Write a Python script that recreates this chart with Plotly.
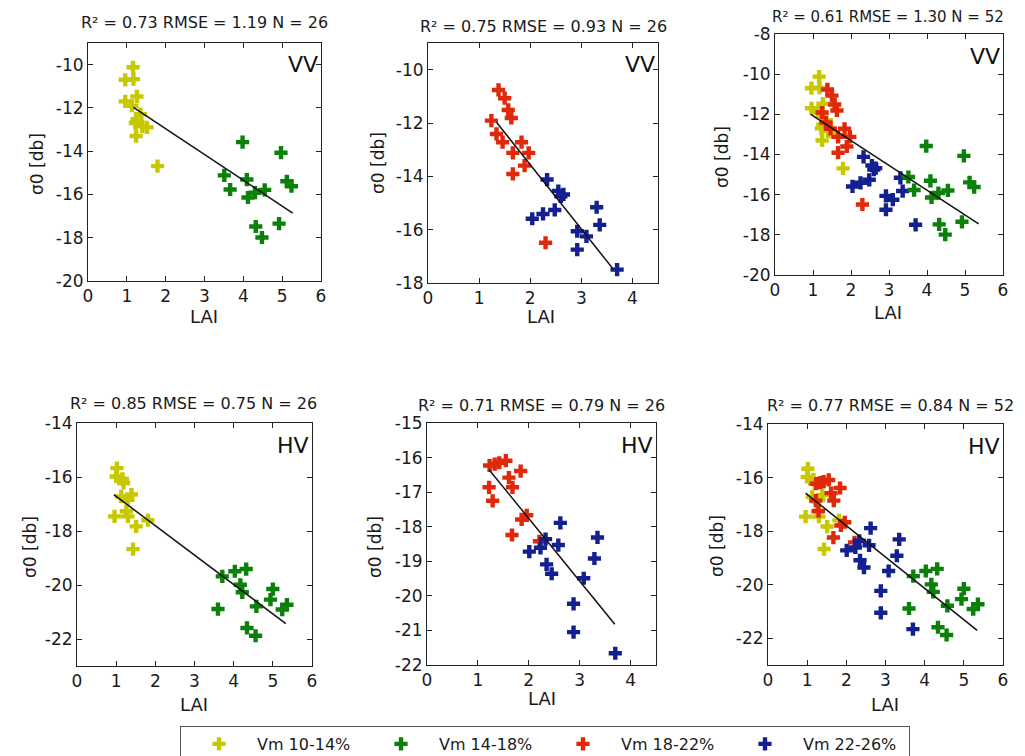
import plotly.graph_objects as go

# ---------------- data ----------------
# VV, Vm 10-14% (yellow) and Vm 14-18% (green)
yellow_lai_vv = [1.16, 0.96, 1.17, 1.26, 0.96, 1.13, 1.35, 1.26, 1.22, 1.40, 1.52, 1.24, 1.79]
yellow_vv = [-10.12, -10.70, -10.67, -11.47, -11.70, -11.90, -12.29, -12.52, -12.70, -12.85, -12.90, -13.30, -14.69]
green_lai_vv = [3.98, 4.97, 3.51, 4.09, 5.12, 5.24, 3.66, 4.55, 4.30, 4.12, 4.32, 4.92, 4.48]
green_vv = [-13.58, -14.07, -15.12, -15.31, -15.39, -15.62, -15.77, -15.79, -15.92, -16.14, -17.48, -17.35, -17.99]
# VV, Vm 18-22% (red) and Vm 22-26% (blue)
red_lai_vv = [1.38, 1.50, 1.57, 1.63, 1.24, 1.34, 1.46, 1.83, 1.66, 1.97, 1.89, 1.66, 2.30]
red_vv = [-10.76, -11.07, -11.51, -11.81, -11.91, -12.41, -12.72, -12.72, -13.12, -13.12, -13.60, -13.91, -16.49]
blue_lai_vv = [2.33, 2.55, 2.60, 2.65, 3.30, 2.04, 2.25, 2.48, 3.36, 2.92, 3.10, 2.92, 3.70]
blue_vv = [-14.12, -14.55, -14.75, -14.68, -15.16, -15.59, -15.41, -15.26, -15.82, -16.06, -16.25, -16.75, -17.50]

# HV
yellow_lai_hv = [1.02, 1.00, 1.16, 1.19, 1.13, 1.39, 1.30, 0.96, 1.26, 1.30, 1.81, 1.51, 1.43]
yellow_hv = [-15.67, -15.98, -16.07, -16.22, -16.72, -16.65, -16.84, -17.46, -17.27, -17.46, -17.60, -17.83, -18.67]
green_lai_hv = [4.32, 4.03, 3.71, 4.17, 4.22, 5.00, 4.94, 5.36, 5.24, 4.58, 3.60, 4.34, 4.56]
green_hv = [-19.41, -19.49, -19.68, -19.99, -20.27, -20.15, -20.54, -20.73, -20.91, -20.79, -20.89, -21.59, -21.88]
red_lai_hv = [1.23, 1.33, 1.42, 1.55, 1.61, 1.84, 1.22, 1.68, 1.29, 1.96, 1.86, 1.67, 2.21]
red_hv = [-16.23, -16.19, -16.15, -16.09, -16.58, -16.39, -16.86, -16.86, -17.25, -17.67, -17.79, -18.24, -18.42]
blue_lai_hv = [2.62, 3.35, 2.33, 2.58, 2.01, 2.23, 3.29, 2.35, 2.45, 3.08, 2.88, 2.88, 3.70]
blue_hv = [-17.89, -18.31, -18.36, -18.53, -18.72, -18.61, -18.92, -19.09, -19.36, -19.49, -20.23, -21.05, -21.66]

# regression lines (end points)
fit_vv_a_x, fit_vv_a_y = [1.17, 5.27], [-11.97, -16.86]
fit_vv_b_x, fit_vv_b_y = [1.34, 3.62], [-11.97, -17.47]
fit_vv_all_x, fit_vv_all_y = [0.94, 5.36], [-12.00, -17.46]
fit_hv_a_x, fit_hv_a_y = [0.94, 5.33], [-16.65, -21.43]
fit_hv_b_x, fit_hv_b_y = [1.22, 3.69], [-16.35, -20.82]
fit_hv_all_x, fit_hv_all_y = [0.96, 5.34], [-16.58, -21.71]

titles = ["R² = 0.73 RMSE = 1.19 N = 26", "R² = 0.75 RMSE = 0.93 N = 26",
          "R² = 0.61 RMSE = 1.30 N = 52", "R² = 0.85 RMSE = 0.75 N = 26",
          "R² = 0.71 RMSE = 0.79 N = 26", "R² = 0.77 RMSE = 0.84 N = 52"]
pol_labels = ["VV", "VV", "VV", "HV", "HV", "HV"]
series_names = ["Vm 10-14%", "Vm 14-18%", "Vm 18-22%", "Vm 22-26%"]
colors = ["#c8c800", "#0b800b", "#e0280a", "#14208f"]

x_ranges = [[0, 6], [0, 4.5], [0, 6], [0, 6], [0, 4.5], [0, 6]]
x_ticks = [[0, 1, 2, 3, 4, 5, 6], [0, 1, 2, 3, 4], [0, 1, 2, 3, 4, 5, 6],
           [0, 1, 2, 3, 4, 5, 6], [0, 1, 2, 3, 4], [0, 1, 2, 3, 4, 5, 6]]
y_ranges = [[-20, -9], [-18, -9], [-20, -8], [-23, -14], [-22, -15], [-23, -14]]
y_ticks = [[-20, -18, -16, -14, -12, -10], [-18, -16, -14, -12, -10],
           [-20, -18, -16, -14, -12, -10, -8], [-22, -20, -18, -16, -14],
           [-22, -21, -20, -19, -18, -17, -16, -15], [-22, -20, -18, -16, -14]]

# ---------------- layout geometry (page pixels) ----------------
PAGE_OFF = 8            # default body margin of the html page
W, H = 1025 - PAGE_OFF, 756 - PAGE_OFF
boxes = [(88, 321, 43, 281), (428, 658, 43, 283), (775, 1003, 34, 275),
         (77, 312, 423, 666), (427, 656, 423, 665), (768, 1003, 424, 665)]
title_pos = [(204, 23), (543, 27), (888, 17), (193, 403), (541, 405), (890, 405)]
title_size = [16, 16, 15, 16, 16, 16]
xlabel_pos = [(204, 316), (541, 316), (888, 312), (194, 704), (542, 698), (885, 704)]
ylabel_pos = [(37, 164), (378, 163), (722, 157), (30, 547), (375, 547), (717, 546)]

def fx(p):
    return (p - PAGE_OFF) / W

def fy(p):
    return 1 - (p - PAGE_OFF) / H

FONT = "DejaVu Sans"
TXT = "#1a1a1a"

fig = go.Figure()

panel_series = [
    [(0, yellow_lai_vv, yellow_vv), (1, green_lai_vv, green_vv)],
    [(2, red_lai_vv, red_vv), (3, blue_lai_vv, blue_vv)],
    [(0, yellow_lai_vv, yellow_vv), (2, red_lai_vv, red_vv),
     (3, blue_lai_vv, blue_vv), (1, green_lai_vv, green_vv)],
    [(0, yellow_lai_hv, yellow_hv), (1, green_lai_hv, green_hv)],
    [(2, red_lai_hv, red_hv), (3, blue_lai_hv, blue_hv)],
    [(0, yellow_lai_hv, yellow_hv), (2, red_lai_hv, red_hv),
     (3, blue_lai_hv, blue_hv), (1, green_lai_hv, green_hv)],
]
fits = [(fit_vv_a_x, fit_vv_a_y), (fit_vv_b_x, fit_vv_b_y), (fit_vv_all_x, fit_vv_all_y),
        (fit_hv_a_x, fit_hv_a_y), (fit_hv_b_x, fit_hv_b_y), (fit_hv_all_x, fit_hv_all_y)]

shown = set()
for i in range(6):
    sfx = "" if i == 0 else str(i + 1)
    xa, ya = "x" + sfx, "y" + sfx
    for ci, xs, ys in panel_series[i]:
        fig.add_trace(go.Scatter(
            x=xs, y=ys, mode="markers", xaxis=xa, yaxis=ya,
            name=series_names[ci], legendgroup=series_names[ci],
            legendrank=ci + 1,
            showlegend=ci not in shown,
            marker=dict(symbol="cross", size=11, color=colors[ci], line=dict(width=0)),
        ))
        shown.add(ci)
    fig.add_trace(go.Scatter(
        x=fits[i][0], y=fits[i][1], mode="lines", xaxis=xa, yaxis=ya,
        line=dict(color="#111111", width=1.5), showlegend=False, hoverinfo="skip"))

layout = dict(
    width=W, height=H, autosize=False,
    margin=dict(l=0, r=0, t=0, b=0, autoexpand=False),
    paper_bgcolor="white", plot_bgcolor="white",
    font=dict(family=FONT, color=TXT),
    showlegend=True,
    legend=dict(
        orientation="h", x=fx(180), y=fy(726), xanchor="left", yanchor="top",
        bordercolor="#555555", borderwidth=1, bgcolor="white",
        font=dict(family=FONT, size=16, color=TXT),
        itemwidth=66, entrywidth=101, entrywidthmode="pixels",
        traceorder="normal",
    ),
)
annotations = []
for i in range(6):
    sfx = "" if i == 0 else str(i + 1)
    l, r, t, b = boxes[i]
    axis_common = dict(
        showline=True, linecolor="#222222", linewidth=1, mirror="allticks",
        ticks="inside", ticklen=5, tickcolor="#222222", showgrid=False, zeroline=False,
        tickfont=dict(family=FONT, size=17, color=TXT),
    )
    layout["xaxis" + sfx] = dict(
        domain=[fx(l), fx(r)], range=x_ranges[i], tickvals=x_ticks[i],
        ticktext=[str(v) for v in x_ticks[i]],
        anchor="y" + sfx, **axis_common)
    layout["yaxis" + sfx] = dict(
        domain=[fy(b), fy(t)], range=y_ranges[i], tickvals=y_ticks[i],
        ticktext=[str(v) for v in y_ticks[i]],
        anchor="x" + sfx, **axis_common)
    annotations.append(dict(
        text=titles[i], x=fx(title_pos[i][0]), y=fy(title_pos[i][1]), xref="paper", yref="paper",
        xanchor="center", yanchor="middle", showarrow=False,
        font=dict(family=FONT, size=title_size[i], color=TXT)))
    annotations.append(dict(
        text="LAI", x=fx(xlabel_pos[i][0]), y=fy(xlabel_pos[i][1]), xref="paper", yref="paper",
        xanchor="center", yanchor="middle", showarrow=False,
        font=dict(family=FONT, size=18, color=TXT)))
    annotations.append(dict(
        text="σ0 [db]", x=fx(ylabel_pos[i][0]), y=fy(ylabel_pos[i][1]), xref="paper", yref="paper",
        xanchor="center", yanchor="middle", showarrow=False, textangle=-90,
        font=dict(family=FONT, size=17, color=TXT)))
    annotations.append(dict(
        text=pol_labels[i], x=fx(r - 1), y=fy(t + 22), xref="paper", yref="paper",
        xanchor="right", yanchor="middle", showarrow=False,
        font=dict(family=FONT, size=22, color="#111111")))
layout["annotations"] = annotations
fig.update_layout(**layout)
fig.write_html("out.html")
